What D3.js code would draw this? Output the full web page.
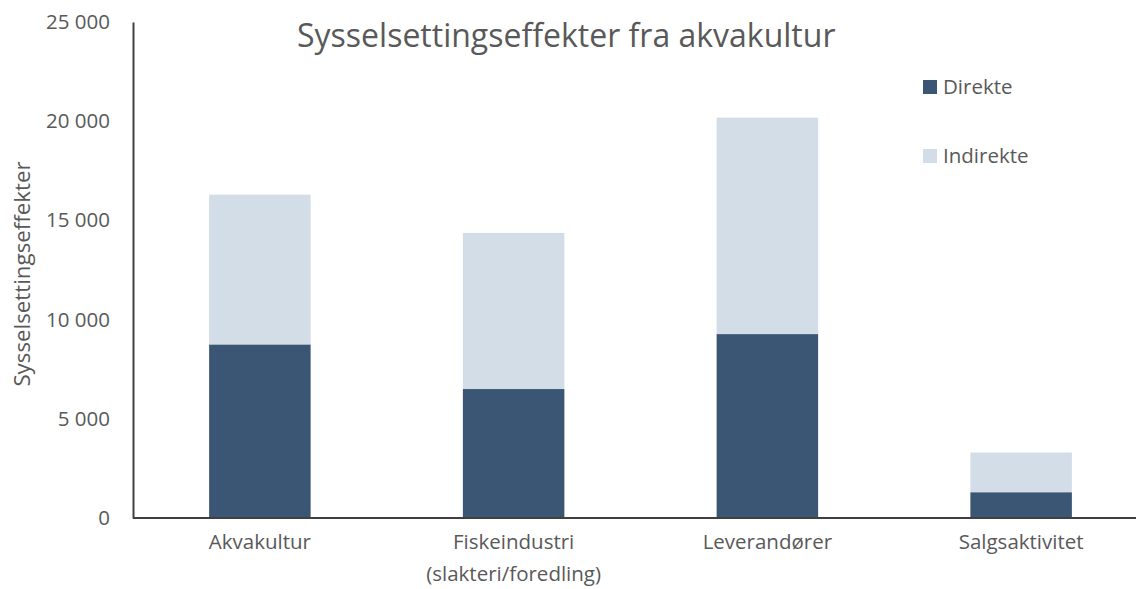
<!DOCTYPE html>
<html>
<head>
<meta charset="utf-8">
<script src="https://cdn.jsdelivr.net/npm/d3@7"></script>
<style>
  html, body { margin: 0; padding: 0; background: #ffffff; }
  svg { display: block; font-family: "Open Sans", "Noto Sans", sans-serif; }
</style>
</head>
<body>
<svg id="chart" width="1136" height="589"></svg>
<script>
const categories = [["Akvakultur"], ["Fiskeindustri", "(slakteri/foredling)"], ["Leverandører"], ["Salgsaktivitet"]];
const seriesNames = ["Direkte", "Indirekte"];
const direkte = [8750, 6500, 9270, 1300];
const indirekte = [7550, 7870, 10910, 2000];
const yTicks = [0, 5000, 10000, 15000, 20000, 25000];
const title = "Sysselsettingseffekter fra akvakultur";
const yTitle = "Sysselsettingseffekter";

const colors = ["#3A5674", "#D3DDE8"];
const textColor = "#595959";

const svg = d3.select("#chart");
const plotLeft = 133, plotRight = 1148, plotTop = 22, plotBottom = 518;

const keys = categories.map(c => c.join(" "));
const x = d3.scaleBand().domain(keys).range([plotLeft, plotRight]).paddingInner(0.6).paddingOuter(0.3);
const y = d3.scaleLinear().domain([0, 25000]).range([plotBottom, plotTop]);

const rows = keys.map((k, i) => ({ key: k, Direkte: direkte[i], Indirekte: indirekte[i] }));
const stacked = d3.stack().keys(seriesNames)(rows);

svg.append("g").selectAll("g").data(stacked).join("g")
  .attr("fill", (d, i) => colors[i])
  .selectAll("rect").data(d => d).join("rect")
  .attr("x", d => x(d.data.key))
  .attr("width", x.bandwidth())
  .attr("y", d => y(d[1]))
  .attr("height", d => y(d[0]) - y(d[1]));

// Y axis
const yAxis = svg.append("g").attr("transform", `translate(${plotLeft},0)`)
  .call(d3.axisLeft(y).tickValues(yTicks).tickSize(0).tickPadding(23)
    .tickFormat(d => d3.format(",")(d).replace(/,/g, " ")));
yAxis.select(".domain").attr("stroke", "#404040").attr("stroke-width", 2);
yAxis.selectAll("text").attr("fill", textColor).attr("font-size", 20.5)
  .attr("font-family", "'Open Sans', sans-serif");

// X axis
const xAxis = svg.append("g").attr("transform", `translate(0,${plotBottom})`);
xAxis.append("line").attr("x1", plotLeft).attr("x2", 1136).attr("y1", 0).attr("y2", 0)
  .attr("stroke", "#404040").attr("stroke-width", 2);
categories.forEach((lines, i) => {
  const cx = x(keys[i]) + x.bandwidth() / 2;
  const t = xAxis.append("text")
    .attr("x", cx)
    .attr("y", 31)
    .attr("text-anchor", "middle")
    .attr("fill", textColor)
    .attr("font-size", 20.5);
  lines.forEach((ln, j) => {
    t.append("tspan").attr("x", cx).attr("dy", j === 0 ? 0 : 32).text(ln);
  });
});

// Y title
svg.append("text")
  .attr("transform", `translate(30,${(plotTop + plotBottom) / 2 + 4}) rotate(-90)`)
  .attr("text-anchor", "middle")
  .attr("fill", textColor)
  .attr("font-size", 22.3)
  .text(yTitle);

// Title
svg.append("text")
  .attr("x", 297).attr("y", 47)
  .attr("fill", textColor)
  .attr("font-size", 32)
  .text(title);

// Legend
const legend = svg.append("g");
seriesNames.forEach((name, i) => {
  const g = legend.append("g").attr("transform", `translate(923,${80 + i * 69})`);
  g.append("rect").attr("width", 14).attr("height", 14).attr("fill", colors[i]);
  g.append("text").attr("x", 20).attr("y", 7).attr("dy", "0.35em")
    .attr("fill", textColor).attr("font-size", 20.5).text(name);
});
</script>
</body>
</html>
